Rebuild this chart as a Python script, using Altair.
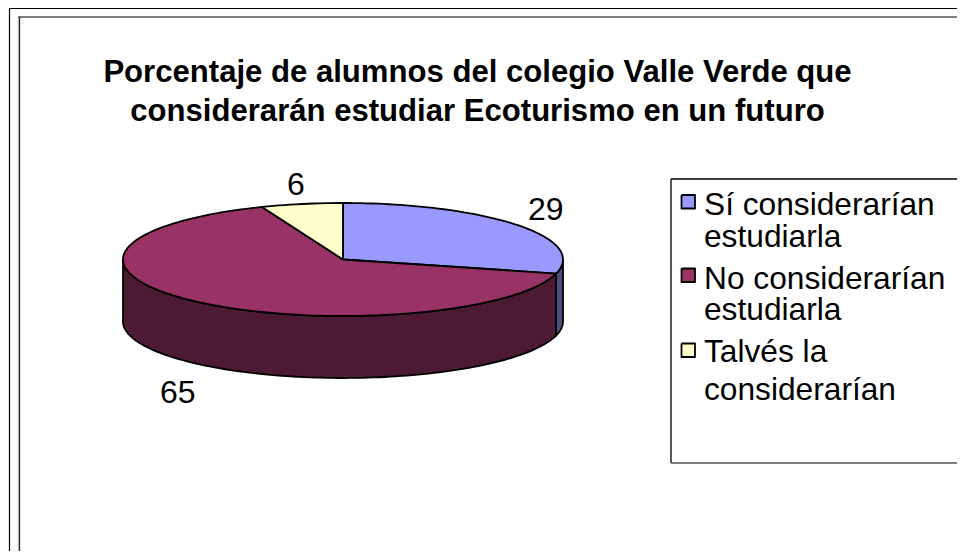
import math
import altair as alt
import pandas as pd

categories = ["Sí considerarían estudiarla", "No considerarían estudiarla", "Talvés la considerarían"]
values = [29, 65, 6]
top_colors = ["#9999FF", "#993366", "#FFFFCC"]
side_colors = ["#4D4D80", "#4D1A33", "#808066"]
title_lines = ["Porcentaje de alumnos del colegio Valle Verde que",
               "considerarán estudiar Ecoturismo en un futuro"]
legend_lines = [["Sí considerarían", "estudiarla"], ["No considerarían", "estudiarla"],
                ["Talvés la", "considerarían"]]

W, H = 949, 543
CX, CY, RX, RY, DEPTH = 343, 259.5, 220, 56.5, 62
X = alt.X("x:Q", axis=None, scale=alt.Scale(domain=[8, 957], nice=False, zero=False))
Y = alt.Y("y:Q", axis=None, scale=alt.Scale(domain=[551, 8], nice=False, zero=False))


def pt(t_deg, drop=0.0):
    t = math.radians(t_deg)
    return CX + RX * math.sin(t), CY - RY * math.cos(t) + drop


def arc_pts(a, b, drop=0.0):
    n = max(2, int(abs(b - a) / 1.5) + 1)
    return [pt(a + (b - a) * i / (n - 1), drop) for i in range(n)]


def poly(points, color, stroke="#000000", sw=1.8):
    df = pd.DataFrame(points, columns=["x", "y"])
    df["o"] = range(len(df))
    return alt.Chart(df).mark_line(fill=color, stroke=stroke, strokeWidth=sw, strokeJoin="round",
                                   clip=False).encode(x=X, y=Y, order="o:Q")


def rule(x1, y1, x2, y2, color="#000000", sw=1.5):
    df = pd.DataFrame({"x": [x1], "y": [y1], "x2": [x2], "y2": [y2]})
    return alt.Chart(df).mark_rule(color=color, strokeWidth=sw).encode(
        x=X, y=Y, x2="x2:Q", y2="y2:Q")


def label(txt, x, y, size, bold=False, align="left"):
    df = pd.DataFrame({"x": [x], "y": [y], "t": [txt]})
    return alt.Chart(df).mark_text(font="Liberation Sans", fontSize=size, align=align, baseline="alphabetic",
                                   fontWeight="bold" if bold else "normal", color="#000000").encode(
        x=X, y=Y, text="t:N")


layers = []
# frame
layers += [rule(9.5, 8, 957, 8, "#000000", 2), rule(9.5, 8, 9.5, 551, "#000000", 1.2),
           rule(18, 17, 957, 17, "#808080", 2), rule(18.2, 17, 18.2, 551, "#c8c8c8", 1),
           rule(19.5, 17, 19.5, 551, "#202020", 1.3)]

# walls
angles = [0]
for v in values:
    angles.append(angles[-1] + v * 3.6)
for i in range(3):
    a, b = max(angles[i], 90), min(angles[i + 1], 270)
    if a < b:
        layers.append(poly(arc_pts(a, b) + arc_pts(b, a, DEPTH) + [pt(a)], side_colors[i]))
# tops
for i in range(3):
    pts = [(CX, CY)] + arc_pts(angles[i], angles[i + 1]) + [(CX, CY)]
    layers.append(poly(pts, top_colors[i]))

# title
layers += [label(title_lines[0], 477.5, 82, 31.1, True, "center"),
           label(title_lines[1], 477.5, 121, 31.1, True, "center")]
# data labels
layers += [label(str(values[0]), 528, 220, 32), label(str(values[1]), 160, 403, 32), label(str(values[2]), 287, 195, 32)]

# legend
layers += [rule(671, 179, 957, 179, "#000000", 1.3), rule(671, 179, 671, 463, "#000000", 1.3),
           rule(671, 463, 957, 463, "#505050", 1.3)]
sq_y = [195, 268.5, 343.5]
base = [[215, 247], [289, 320], [362, 400]]
for i in range(3):
    y = sq_y[i]
    layers.append(poly([(681.5, y), (695, y), (695, y + 13.5), (681.5, y + 13.5), (681.5, y)], top_colors[i]))
    for j in range(2):
        layers.append(label(legend_lines[i][j], 704, base[i][j], 31.7))

chart = alt.layer(*layers).properties(
    width=W, height=H, padding=0, autosize=alt.AutoSizeParams(type="none"),
    background="#ffffff").configure_view(stroke=None, clip=False)
chart.save("out.html", embed_options={"renderer": "svg", "actions": False})
